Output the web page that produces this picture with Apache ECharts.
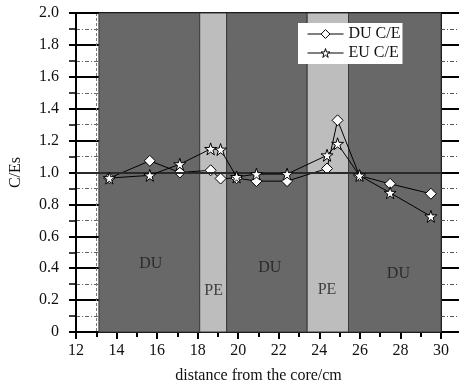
<!DOCTYPE html>
<html><head><meta charset="utf-8">
<script src="https://cdn.jsdelivr.net/npm/echarts@6/dist/echarts.min.js"></script>
<style>html,body{margin:0;padding:0;background:#fff}#c{width:459px;height:389px}</style>
</head><body><div id="c"></div>
<script>
// ---- data ----
const distance = [13.64, 15.64, 17.12, 18.64, 19.13, 19.92, 20.9, 22.41, 24.38, 24.9, 25.98, 27.49, 29.5];
const duCE = [0.965, 1.073, 1.0, 1.014, 0.962, 0.965, 0.946, 0.946, 1.025, 1.327, 0.98, 0.929, 0.867];
const euCE = [0.965, 0.982, 1.052, 1.148, 1.144, 0.972, 0.99, 0.99, 1.108, 1.18, 0.981, 0.873, 0.725];
const bandStart = [13.13, 18.1, 19.43, 23.4, 25.44];
const bandEnd = [18.1, 19.43, 23.4, 25.44, 30];
const bandType = ['DU', 'PE', 'DU', 'PE', 'DU'];
const bandLabelX = [15.69, 18.79, 21.56, 24.38, 27.9];
const bandLabelY = [0.425, 0.258, 0.40, 0.264, 0.363];
const refLine = 1.0;

const FONT = 'Liberation Serif';
const bandColor = {DU: '#686868', PE: '#bdbdbd'};
const starPath = 'path://M50,0 L61.2,34.5 L97.6,34.5 L68.2,55.9 L79.4,90.5 L50,69.1 L20.6,90.5 L31.8,55.9 L2.4,34.5 L38.8,34.5 Z';

const chart = echarts.init(document.getElementById('c'));
const markerStyle = {color: '#fff', borderColor: '#000', borderWidth: 1};
chart.setOption({
  animation: false,
  backgroundColor: '#fff',
  grid: {left: 75, right: 18, top: 13, bottom: 56, containLabel: false},
  legend: {
    data: [
      {name: 'DU C/E', itemStyle: {color: '#fff', borderColor: '#000', borderWidth: 1}, lineStyle: {color: '#000', width: 1}},
      {name: 'EU C/E', itemStyle: {color: '#fff', borderColor: '#000', borderWidth: 1}, lineStyle: {color: '#000', width: 1}}
    ],
    orient: 'vertical', left: 298, top: 23,
    backgroundColor: '#fff',
    padding: [3, 2, 3, 9],
    itemGap: 3, itemWidth: 36, itemHeight: 11,
    textStyle: {fontFamily: FONT, fontSize: 16, color: '#111'}
  },
  xAxis: [{
    type: 'value', min: 12, max: 30, interval: 2, position: 'bottom',
    name: 'distance from the core/cm', nameLocation: 'middle', nameGap: 36,
    nameTextStyle: {fontFamily: FONT, fontSize: 16, color: '#111'},
    axisLine: {show: true, onZero: false, lineStyle: {color: '#000', width: 2}},
    axisTick: {show: true, inside: false, length: 7, lineStyle: {color: '#000', width: 2}},
    minorTick: {show: true, splitNumber: 2, length: 5, lineStyle: {color: '#000', width: 2}},
    axisLabel: {fontFamily: FONT, fontSize: 16, color: '#111', margin: 11},
    splitLine: {show: false},
    minorSplitLine: {show: true, lineStyle: {color: '#777', type: [3, 2], width: 1}}
  }, {
    type: 'value', min: 12, max: 30, position: 'top',
    axisLine: {show: true, onZero: false, lineStyle: {color: '#000', width: 2}},
    axisTick: {show: false}, axisLabel: {show: false}, splitLine: {show: false}
  }],
  yAxis: [{
    type: 'value', min: 0, max: 2, interval: 0.2, position: 'left',
    name: 'C/Es', nameLocation: 'middle', nameGap: 52,
    nameTextStyle: {fontFamily: FONT, fontSize: 16, color: '#111'},
    axisLine: {show: true, onZero: false, lineStyle: {color: '#000', width: 2}},
    axisTick: {show: true, inside: false, length: 7, lineStyle: {color: '#000', width: 2}},
    minorTick: {show: true, splitNumber: 2, length: 7, lineStyle: {color: '#000', width: 1.5}},
    axisLabel: {fontFamily: FONT, fontSize: 16, color: '#111', margin: 17,
      formatter: v => v === 0 ? '0' : v.toFixed(1)},
    splitLine: {show: true, lineStyle: {color: '#000', width: 2}},
    minorSplitLine: {show: true, lineStyle: {color: '#666', type: [4, 2, 1, 2], width: 1}}
  }, {
    type: 'value', min: 0, max: 2, interval: 0.2, position: 'right',
    axisLine: {show: true, onZero: false, lineStyle: {color: '#000', width: 2}},
    axisTick: {show: true, inside: false, length: 18, lineStyle: {color: '#000', width: 2}},
    minorTick: {show: true, splitNumber: 2, length: 18, lineStyle: {color: '#555', type: [4, 2, 1, 2], width: 1}},
    axisLabel: {show: false}, splitLine: {show: false}
  }],
  series: [{
    name: 'bands', type: 'line', data: [], silent: true, z: 1,
    markArea: {
      silent: true,
      data: bandType.map((t, i) => [
        {xAxis: bandStart[i], itemStyle: {color: bandColor[t], borderColor: '#3a3a3a', borderWidth: 1}},
        {xAxis: bandEnd[i]}
      ])
    }
  }, {
    name: 'ref', type: 'line', data: [], silent: true, z: 2,
    markLine: {
      silent: true, symbol: 'none', label: {show: false},
      lineStyle: {color: '#2a2a2a', width: 2, type: 'solid'},
      data: [{yAxis: refLine}]
    }
  }, {
    name: 'bandLabels', type: 'scatter', z: 3, silent: true, symbolSize: 0,
    data: bandType.map((t, i) => ({value: [bandLabelX[i], bandLabelY[i]], name: t})),
    label: {show: true, position: 'inside', formatter: p => p.name,
      fontFamily: FONT, fontSize: 16, color: '#1a1a1a'}
  }, {
    name: 'DU C/E', type: 'line', z: 4,
    data: distance.map((x, i) => [x, duCE[i]]),
    symbol: 'diamond', symbolSize: 11, showAllSymbol: true,
    lineStyle: {color: '#000', width: 1},
    itemStyle: markerStyle
  }, {
    name: 'EU C/E', type: 'line', z: 5,
    data: distance.map((x, i) => [x, euCE[i]]),
    symbol: starPath, symbolSize: 12, showAllSymbol: true,
    lineStyle: {color: '#000', width: 1},
    itemStyle: markerStyle
  }]
});
</script></body></html>
